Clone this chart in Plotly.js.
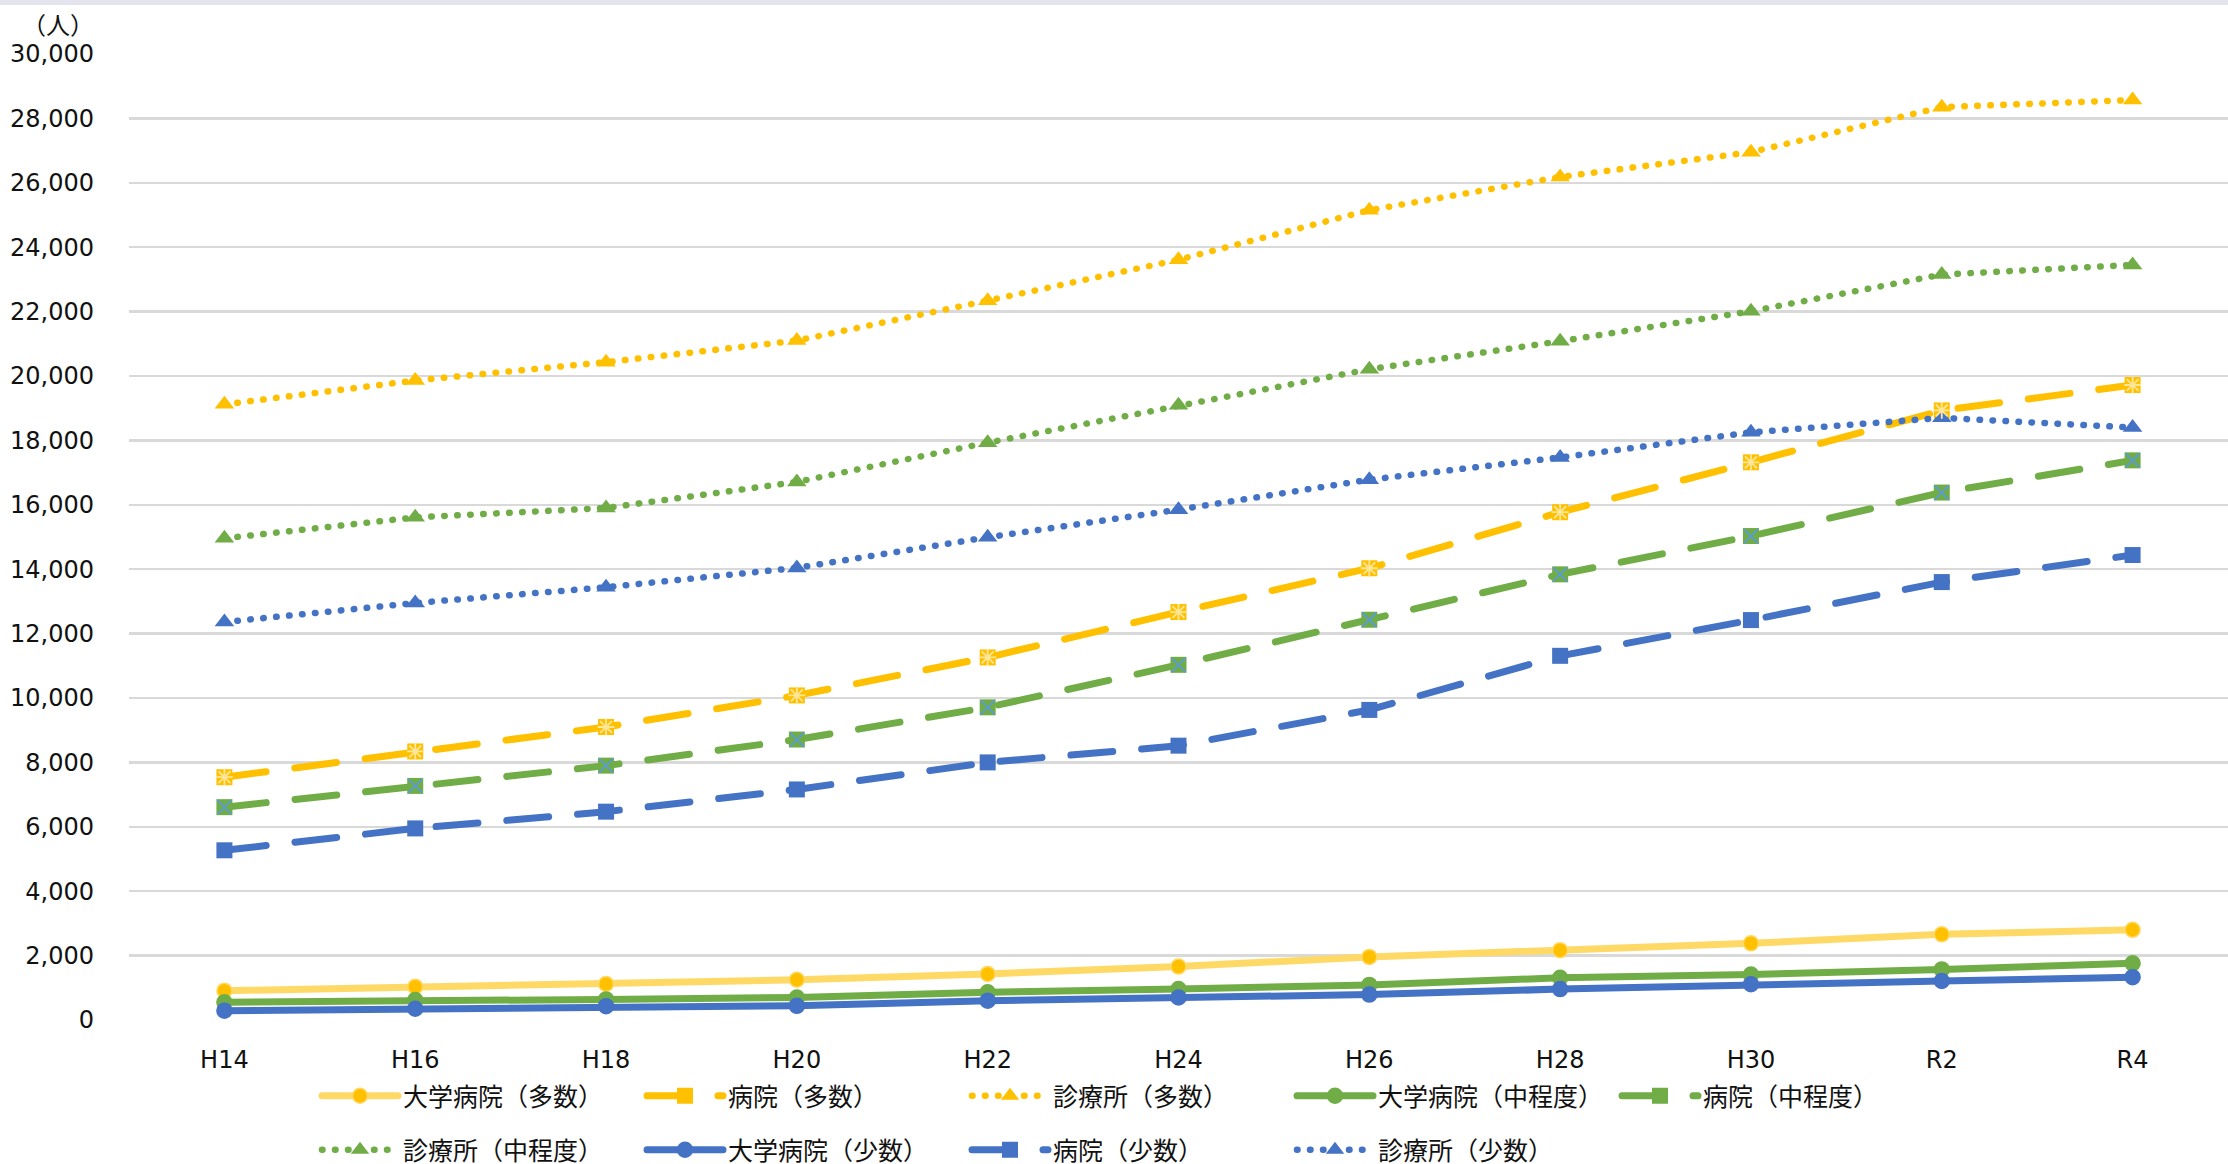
<!DOCTYPE html>
<html>
<head>
<meta charset="utf-8">
<script src="https://cdn.plot.ly/plotly-3.0.1.min.js"></script>
<style>
  html, body { margin: 0; padding: 0; background: #fff; overflow: hidden; }
  #topband { position: absolute; left: 0; top: 0; width: 2228px; height: 5px; background: #E4E4EE; z-index: 5; }
  #chart { width: 2228px; height: 1200px; }
  .js-line { stroke-linecap: round !important; }
</style>
</head>
<body>
<div id="topband"></div>
<div id="chart"></div>
<script>
// Categories (fiscal years)
const categories = ['H14','H16','H18','H20','H22','H24','H26','H28','H30','R2','R4'];

// Series values (人)
const univMany   = [910, 1030, 1120, 1250, 1430, 1660, 1960, 2170, 2380, 2660, 2800];
const hospMany   = [7540, 8340, 9100, 10080, 11260, 12670, 14030, 15770, 17320, 18930, 19720];
const clinicMany = [19120, 19860, 20430, 21100, 22340, 23610, 25150, 26180, 26950, 28350, 28570];
const univMid    = [550, 620, 640, 700, 860, 960, 1090, 1310, 1410, 1570, 1760];
const hospMid    = [6610, 7270, 7900, 8710, 9710, 11030, 12430, 13840, 15030, 16380, 17380];
const clinicMid  = [14960, 15610, 15900, 16710, 17930, 19090, 20210, 21080, 22010, 23150, 23450];
const univFew    = [290, 350, 430, 440, 600, 700, 790, 960, 1110, 1210, 1330];
const hospFew    = [5270, 5950, 6470, 7160, 8000, 8520, 9630, 11310, 12420, 13600, 14440];
const clinicFew  = [12360, 12950, 13440, 14040, 14990, 15850, 16780, 17470, 18250, 18700, 18400];

// Series names
const names = {
  univMany: '大学病院（多数）', hospMany: '病院（多数）', clinicMany: '診療所（多数）',
  univMid: '大学病院（中程度）', hospMid: '病院（中程度）', clinicMid: '診療所（中程度）',
  univFew: '大学病院（少数）', hospFew: '病院（少数）', clinicFew: '診療所（少数）'
};

const Y_LIGHT = '#FFD966', YEL = '#FFC000', GRN = '#70AD47', BLU = '#4472C4';
const DOT = '0.5px,12.5px';
const DASH = '42px,29px';

function solid(y, name, lineColor, markColor, legend) {
  return { x: categories, y: y, name: name, type: 'scatter', mode: 'lines+markers', legend: legend,
    line: { color: lineColor, width: 7 },
    marker: { symbol: 'circle', size: 15, color: markColor, line: { color: lineColor, width: 1.5 } } };
}
function dashed(y, name, color, legend) {
  return { x: categories, y: y, name: name, type: 'scatter', mode: 'lines+markers', legend: legend,
    line: { color: color, width: 7, dash: DASH },
    marker: { symbol: 'square', size: 16, color: color, line: { width: 0 } } };
}
function dotted(y, name, color, legend) {
  return { x: categories, y: y, name: name, type: 'scatter', mode: 'lines+markers', legend: legend,
    line: { color: color, width: 6.5, dash: DOT },
    marker: { symbol: 'triangle-up', size: 17, color: color, line: { width: 0 } } };
}
function overlay(y, symbol, color, size) {
  return { x: categories, y: y, type: 'scatter', mode: 'markers', showlegend: false, hoverinfo: 'skip',
    marker: { symbol: symbol, size: size, color: color, line: { color: color, width: 1.8 } } };
}

const data = [
  solid(univMany, names.univMany, Y_LIGHT, YEL, 'legend'),
  dashed(hospMany, names.hospMany, YEL, 'legend'),
  dotted(clinicMany, names.clinicMany, YEL, 'legend'),
  solid(univMid, names.univMid, GRN, GRN, 'legend'),
  dashed(hospMid, names.hospMid, GRN, 'legend'),
  dotted(clinicMid, names.clinicMid, GRN, 'legend2'),
  solid(univFew, names.univFew, BLU, BLU, 'legend2'),
  dashed(hospFew, names.hospFew, BLU, 'legend2'),
  dotted(clinicFew, names.clinicFew, BLU, 'legend2'),
  overlay(hospMany, 'asterisk-open', '#FFE699', 14),
  overlay(hospMid, 'x-thin-open', '#5B9BD5', 14)
];

const H = 1200;
const legendCommon = {
  orientation: 'h', xref: 'container', yref: 'container', xanchor: 'left', yanchor: 'middle',
  entrywidth: 234, entrywidthmode: 'pixels', itemwidth: 76, bgcolor: 'rgba(0,0,0,0)',
  font: { family: '"Noto Sans CJK JP", "Noto Sans", sans-serif', size: 25, color: '#111' },
  traceorder: 'normal', itemclick: false, itemdoubleclick: false
};

const layout = {
  width: 2228, height: H,
  margin: { l: 129, r: 0, t: 54, b: H - 1020, pad: 0 },
  paper_bgcolor: '#ffffff', plot_bgcolor: '#ffffff',
  showlegend: true,
  legend: Object.assign({}, legendCommon, { x: 317 / 2228, y: 1 - 1096 / H }),
  legend2: Object.assign({}, legendCommon, { x: 317 / 2228, y: 1 - 1150 / H }),
  xaxis: {
    type: 'category', range: [-0.5, 10.5], showgrid: false, zeroline: false, showline: false,
    ticks: '', ticklabelstandoff: 23, automargin: false,
    tickfont: { family: '"DejaVu Sans", Verdana, sans-serif', size: 24, color: '#111' }
  },
  yaxis: {
    range: [0, 30000], dtick: 2000, tickformat: ',d', showgrid: true, gridcolor: '#D9D9D9', gridwidth: 2.5,
    zeroline: false, showline: false, ticks: '', ticklabelstandoff: 34, automargin: false,
    tickfont: { family: '"DejaVu Sans", Verdana, sans-serif', size: 24, color: '#111' }
  },
  annotations: [{
    text: '（人）', xref: 'paper', yref: 'paper', x: -0.03406, y: 1.0317, xanchor: 'center', yanchor: 'middle',
    showarrow: false, font: { family: '"Noto Sans CJK JP", sans-serif', size: 24, color: '#111' }
  }]
};

Plotly.newPlot('chart', data, layout, { staticPlot: true, displayModeBar: false });
</script>
</body>
</html>
